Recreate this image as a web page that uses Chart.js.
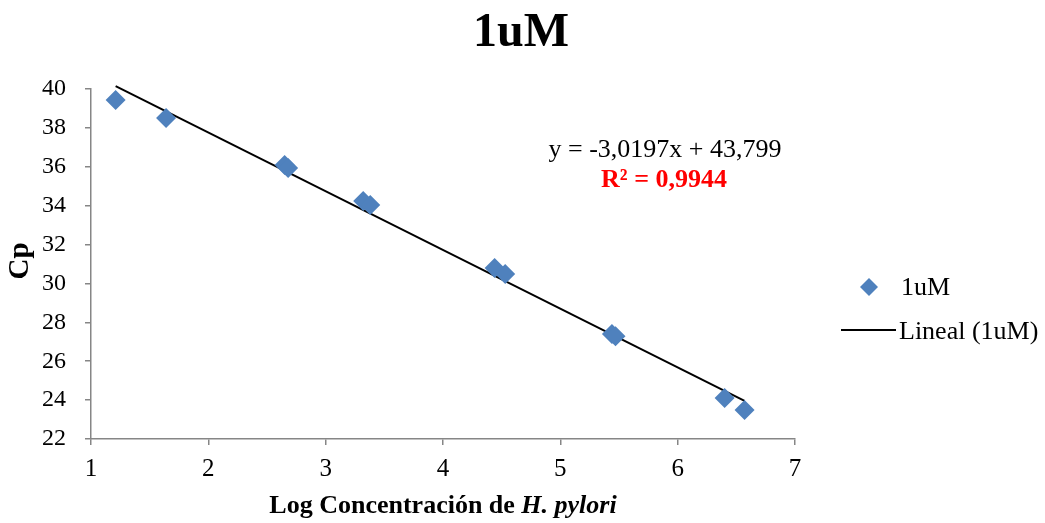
<!DOCTYPE html>
<html>
<head>
<meta charset="utf-8">
<script src="https://cdn.jsdelivr.net/npm/chart.js@4.4.1/dist/chart.umd.min.js"></script>
<style>
  html, body { margin: 0; padding: 0; background: #fff; }
  #wrap { width: 1045px; height: 523px; position: relative; }
</style>
</head>
<body>
<div id="wrap"><canvas id="cpChart" width="1045" height="523"></canvas></div>
<script>
const logConc = [1.21, 1.64, 2.65, 2.68, 3.32, 3.38, 4.44, 4.53, 5.44, 5.47, 6.40, 6.57];
const cpValues = [39.44, 38.51, 36.09, 35.94, 34.24, 34.04, 30.80, 30.49, 27.40, 27.28, 24.11, 23.49];
const xTicks = [1, 2, 3, 4, 5, 6, 7];
const yTicks = [22, 24, 26, 28, 30, 32, 34, 36, 38, 40];
const slope = -3.0197;
const intercept = 43.799;
const rSquared = 0.9944;

const serif = "'Liberation Serif', 'Times New Roman', serif";
const pointBlue = '#4F81BD';

function fmtComma(v, digits) {
  return v.toFixed(digits).replace('.', ',');
}

function trendPoints() {
  const xMin = Math.min(...logConc);
  const xMax = Math.max(...logConc);
  return [
    { x: xMin, y: slope * xMin + intercept },
    { x: xMax, y: slope * xMax + intercept },
  ];
}

// title, axis titles, equation and the legend are painted by hand
const extraText = {
  id: 'extraText',
  afterDraw(chart) {
    const ctx = chart.ctx;
    ctx.save();
    ctx.fillStyle = '#000';
    ctx.textBaseline = 'alphabetic';

    ctx.textAlign = 'center';
    ctx.font = `bold 48px ${serif}`;
    ctx.fillText('1uM', 521, 46);

    // y axis title
    ctx.save();
    ctx.translate(28, 261);
    ctx.rotate(-Math.PI / 2);
    ctx.font = `bold 29px ${serif}`;
    ctx.fillText('Cp', 0, 0);
    ctx.restore();

    // x axis title: regular bold part + bold italic species name
    const partA = 'Log Concentración de ';
    const partB = 'H. pylori';
    ctx.font = `bold 26px ${serif}`;
    const wA = ctx.measureText(partA).width;
    ctx.font = `italic bold 26px ${serif}`;
    const wB = ctx.measureText(partB).width;
    const startX = 443 - (wA + wB) / 2;
    ctx.textAlign = 'left';
    ctx.font = `bold 26px ${serif}`;
    ctx.fillText(partA, startX, 513);
    ctx.font = `italic bold 26px ${serif}`;
    ctx.fillText(partB, startX + wA, 513);

    // trendline equation
    ctx.textAlign = 'center';
    ctx.font = `26px ${serif}`;
    ctx.fillText(`y = ${fmtComma(slope, 4)}x + ${fmtComma(intercept, 3)}`, 665, 157);
    ctx.fillStyle = '#FF0000';
    ctx.font = `bold 26px ${serif}`;
    ctx.fillText(`R² = ${fmtComma(rSquared, 4)}`, 664, 187);

    // legend
    ctx.fillStyle = pointBlue;
    ctx.beginPath();
    ctx.moveTo(869, 278);
    ctx.lineTo(878, 287);
    ctx.lineTo(869, 296);
    ctx.lineTo(860, 287);
    ctx.closePath();
    ctx.fill();
    ctx.strokeStyle = '#000';
    ctx.lineWidth = 2;
    ctx.beginPath();
    ctx.moveTo(841, 330);
    ctx.lineTo(896, 330);
    ctx.stroke();
    ctx.fillStyle = '#000';
    ctx.textAlign = 'left';
    ctx.font = `26px ${serif}`;
    ctx.fillText('1uM', 901, 295);
    ctx.fillText('Lineal (1uM)', 899, 339);

    ctx.restore();
  }
};

function drawCpChart() {
  const ctx = document.getElementById('cpChart').getContext('2d');

  const data = {
    datasets: [
      {
        type: 'line',
        label: 'Lineal (1uM)',
        data: trendPoints(),
        borderColor: '#000',
        borderWidth: 2,
        pointRadius: 0,
        fill: false,
        clip: false,
        order: 1,
      },
      {
        type: 'scatter',
        label: '1uM',
        data: logConc.map((x, i) => ({ x: x, y: cpValues[i] })),
        pointStyle: 'rectRot',
        pointRadius: 10,
        backgroundColor: pointBlue,
        borderColor: pointBlue,
        borderWidth: 0,
        order: 0,
      },
    ],
  };

  const axisGrey = '#868686';

  const options = {
    responsive: false,
    animation: false,
    layout: { padding: { top: 89, right: 250, bottom: 0, left: 0 } },
    plugins: {
      legend: { display: false },
      tooltip: { enabled: false },
    },
    scales: {
      x: {
        type: 'linear',
        min: 1,
        max: 7,
        afterBuildTicks(scale) { scale.ticks = xTicks.map(v => ({ value: v })); },
        afterFit(scale) { scale.height = 84; },
        border: { color: axisGrey, width: 1.5 },
        grid: { drawOnChartArea: false, drawTicks: true, tickLength: 6, color: axisGrey, lineWidth: 1.5 },
        ticks: { color: '#000', padding: 9, font: { family: serif, size: 25 } },
      },
      y: {
        type: 'linear',
        min: 22,
        max: 40,
        afterBuildTicks(scale) { scale.ticks = yTicks.map(v => ({ value: v })); },
        afterFit(scale) { scale.width = 91; },
        border: { color: axisGrey, width: 1.5 },
        grid: { drawOnChartArea: false, drawTicks: true, tickLength: 6, color: axisGrey, lineWidth: 1.5 },
        ticks: { color: '#000', padding: 19, font: { family: serif, size: 24 } },
      },
    },
  };

  new Chart(ctx, { type: 'scatter', data: data, options: options, plugins: [extraText] });
}

document.addEventListener('DOMContentLoaded', drawCpChart);
</script>
</body>
</html>
